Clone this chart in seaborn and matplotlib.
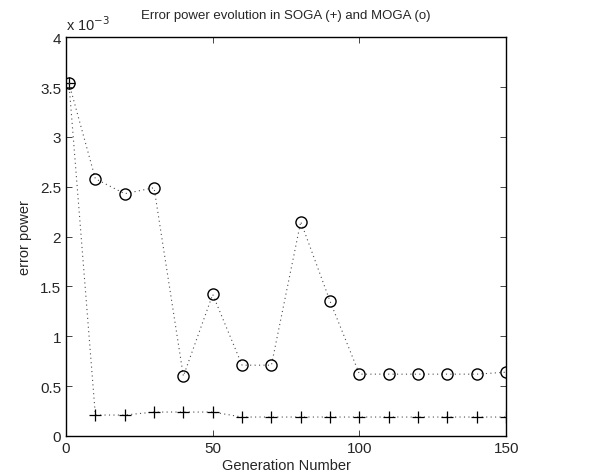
import matplotlib
matplotlib.use("Agg")
import matplotlib.pyplot as plt
import matplotlib.ticker as mticker
import seaborn as sns
import numpy as np
import pandas as pd

# Datos
generations = [1, 10, 20, 30, 40, 50, 60, 70, 80, 90, 100, 110, 120, 130, 140, 150]
soga_power = [3.54e-3, 0.21e-3, 0.21e-3, 0.24e-3, 0.24e-3, 0.24e-3, 0.19e-3, 0.19e-3,
              0.19e-3, 0.19e-3, 0.19e-3, 0.19e-3, 0.19e-3, 0.19e-3, 0.19e-3, 0.19e-3]
moga_power = [3.54e-3, 2.58e-3, 2.43e-3, 2.49e-3, 0.60e-3, 1.42e-3, 0.71e-3, 0.71e-3,
              2.15e-3, 1.35e-3, 0.62e-3, 0.62e-3, 0.62e-3, 0.62e-3, 0.62e-3, 0.64e-3]
x_ticks = [0, 50, 100, 150]
y_ticks = [0, 0.5e-3, 1e-3, 1.5e-3, 2e-3, 2.5e-3, 3e-3, 3.5e-3, 4e-3]

df = pd.DataFrame({"gen": generations, "soga": soga_power, "moga": moga_power})

sns.set_style("ticks")
plt.rcParams["font.family"] = ["Liberation Sans", "DejaVu Sans"]

fig = plt.figure(figsize=(5.92, 4.77), dpi=100)
ax = fig.add_axes([0.1115, 0.0839, 0.7435, 0.8361])

dotted = (0, (1, 3))
# Curva SOGA (+)
sns.lineplot(data=df, x="gen", y="soga", ax=ax, color="0.3", linestyle=dotted,
             linewidth=0.8, marker="+", markersize=9, markeredgewidth=0.9,
             markeredgecolor="black")
# Curva MOGA (o)
sns.lineplot(data=df, x="gen", y="moga", ax=ax, color="0.3", linestyle=dotted,
             linewidth=0.8, marker="o", markersize=8, markerfacecolor="none",
             markeredgecolor="black", markeredgewidth=1.0)

ax.set_xlim(0, 150)
ax.set_ylim(0, 4e-3)
ax.set_xticks(x_ticks)
ax.set_yticks(y_ticks)
ax.yaxis.set_major_formatter(mticker.FuncFormatter(lambda v, p: f"{v * 1e3:g}"))
ax.tick_params(direction="in", top=True, right=True, labelsize=11, length=4, width=0.6)
for s in ax.spines.values():
    s.set_linewidth(1.0)
    s.set_color("black")

ax.set_xlabel("Generation Number", fontsize=10.5, labelpad=2)
ax.set_ylabel("error power", fontsize=10.5, labelpad=6)
ax.set_title("Error power evolution in SOGA (+) and MOGA (o)", fontsize=9.5, pad=14)
ax.text(0.0, 1.01, r"x 10$^{-3}$", transform=ax.transAxes, fontsize=10.5,
        ha="left", va="bottom")

fig.savefig("out.png", dpi=100)
